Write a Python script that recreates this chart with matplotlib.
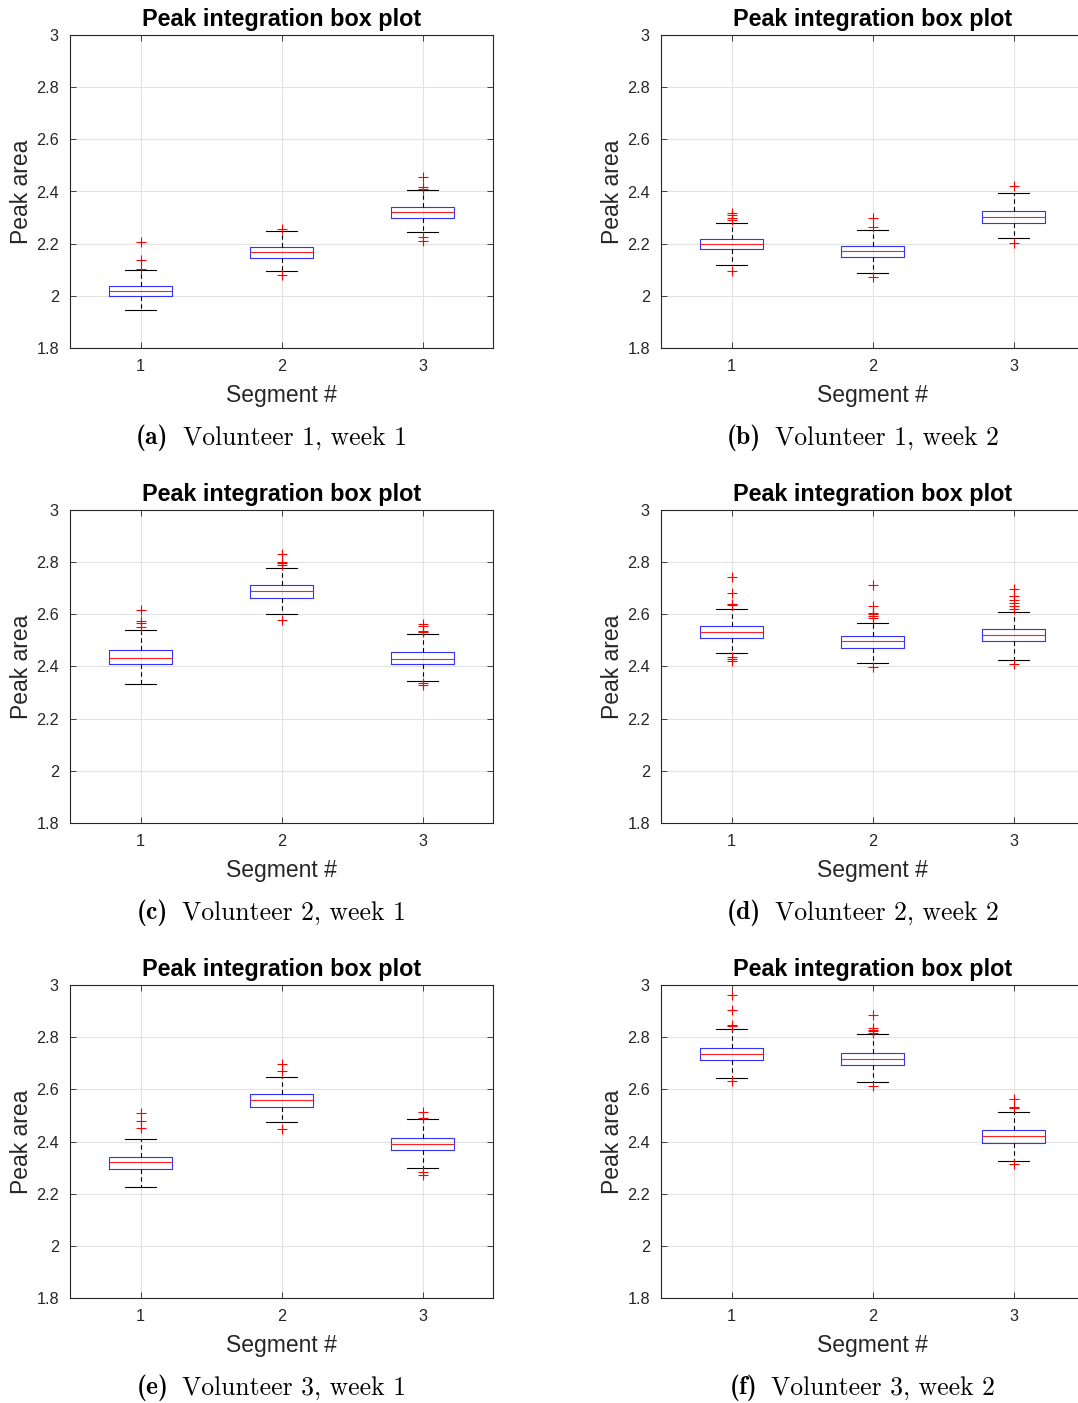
import matplotlib
matplotlib.use("Agg")
import matplotlib.pyplot as plt

# ── Datos (resumen de cada caja) ──
segmentos = [1, 2, 3]

# cada panel: mediana, q1, q3, bigote inferior, bigote superior, atípicos
a_med = [2.017, 2.167, 2.320]
a_q1 = [1.999, 2.145, 2.299]
a_q3 = [2.038, 2.187, 2.341]
a_lo = [1.945, 2.095, 2.244]
a_hi = [2.100, 2.249, 2.405]
a_out = [[2.208, 2.137, 2.103], [2.256, 2.078], [2.455, 2.417, 2.410, 2.226, 2.212]]

b_med = [2.200, 2.171, 2.303]
b_q1 = [2.178, 2.147, 2.279]
b_q3 = [2.219, 2.191, 2.324]
b_lo = [2.120, 2.088, 2.222]
b_hi = [2.279, 2.254, 2.394]
b_out = [[2.317, 2.309, 2.300, 2.290, 2.095], [2.297, 2.264, 2.074], [2.420, 2.203]]

c_med = [2.433, 2.689, 2.429]
c_q1 = [2.408, 2.661, 2.408]
c_q3 = [2.463, 2.712, 2.455]
c_lo = [2.334, 2.603, 2.344]
c_hi = [2.539, 2.778, 2.524]
c_out = [[2.616, 2.575, 2.567, 2.552], [2.831, 2.801, 2.796, 2.791, 2.580],
         [2.562, 2.555, 2.537, 2.534, 2.335, 2.328]]

d_med = [2.532, 2.496, 2.521]
d_q1 = [2.510, 2.470, 2.497]
d_q3 = [2.554, 2.516, 2.545]
d_lo = [2.453, 2.415, 2.425]
d_hi = [2.619, 2.567, 2.608]
d_out = [[2.744, 2.682, 2.641, 2.634, 2.437, 2.429, 2.422],
         [2.712, 2.632, 2.606, 2.600, 2.594, 2.587, 2.397],
         [2.698, 2.670, 2.655, 2.642, 2.632, 2.622, 2.410]]

e_med = [2.320, 2.558, 2.389]
e_q1 = [2.293, 2.534, 2.366]
e_q3 = [2.340, 2.581, 2.414]
e_lo = [2.224, 2.475, 2.298]
e_hi = [2.409, 2.648, 2.485]
e_out = [[2.508, 2.479, 2.451], [2.696, 2.670, 2.448], [2.512, 2.492, 2.283, 2.273]]

f_med = [2.736, 2.717, 2.422]
f_q1 = [2.712, 2.692, 2.395]
f_q3 = [2.759, 2.739, 2.445]
f_lo = [2.645, 2.627, 2.327]
f_hi = [2.831, 2.812, 2.512]
f_out = [[2.962, 2.905, 2.847, 2.842, 2.633],
         [2.885, 2.837, 2.828, 2.822, 2.815, 2.614],
         [2.564, 2.531, 2.527, 2.315]]

paneles = [
    ("(a)", "Volunteer 1, week 1", a_med, a_q1, a_q3, a_lo, a_hi, a_out),
    ("(b)", "Volunteer 1, week 2", b_med, b_q1, b_q3, b_lo, b_hi, b_out),
    ("(c)", "Volunteer 2, week 1", c_med, c_q1, c_q3, c_lo, c_hi, c_out),
    ("(d)", "Volunteer 2, week 2", d_med, d_q1, d_q3, d_lo, d_hi, d_out),
    ("(e)", "Volunteer 3, week 1", e_med, e_q1, e_q3, e_lo, e_hi, e_out),
    ("(f)", "Volunteer 3, week 2", f_med, f_q1, f_q3, f_lo, f_hi, f_out),
]
yticks = [1.8, 2, 2.2, 2.4, 2.6, 2.8, 3]
ytick_labels = ["1.8", "2", "2.2", "2.4", "2.6", "2.8", "3"]

plt.rcParams["font.family"] = ["Liberation Sans", "DejaVu Sans"]

W, H = 1078, 1403
fig = plt.figure(figsize=(W / 100, H / 100), dpi=100)
renderer = fig.canvas.get_renderer()

lefts = [70, 661]
tops = [35, 510, 985]
aw, ah = 423, 313
gap = 14  # px entre "(a)" y el texto

for i, (letra, texto, med, q1, q3, lo, hi, out) in enumerate(paneles):
    fila, col = divmod(i, 2)
    x0, y0 = lefts[col], tops[fila]
    ax = fig.add_axes([x0 / W, (H - y0 - ah) / H, aw / W, ah / H])

    stats = []
    for k in range(3):
        stats.append(dict(med=med[k], q1=q1[k], q3=q3[k],
                          whislo=lo[k], whishi=hi[k], fliers=out[k]))
    ax.bxp(stats, positions=segmentos, widths=0.45, showfliers=True,
           boxprops=dict(color="#3333ff", linewidth=0.8),
           medianprops=dict(color="#ff2020", linewidth=0.8),
           whiskerprops=dict(color="black", linewidth=0.8, linestyle=(0, (4, 3))),
           capprops=dict(color="black", linewidth=0.8),
           capwidths=0.22,
           flierprops=dict(marker="+", markeredgecolor="#ff0000",
                           markersize=7, markeredgewidth=0.8, linestyle="none"))

    ax.set_xlim(0.5, 3.5)
    ax.set_ylim(1.8, 3)
    ax.set_xticks(segmentos)
    ax.set_xticklabels([str(s) for s in segmentos])
    ax.set_yticks(yticks)
    ax.set_yticklabels(ytick_labels)
    ax.grid(True, color="#e3e3e3", linewidth=0.8)
    ax.set_axisbelow(True)
    ax.tick_params(direction="in", top=True, right=True, labelsize=11.7,
                   length=4, width=0.6, colors="#262626", pad=8)
    for s in ax.spines.values():
        s.set_color("#262626")
        s.set_linewidth(0.8)

    ax.set_title("Peak integration box plot", fontsize=16.8, fontweight="bold", pad=6.5)
    ax.set_ylabel("Peak area", fontsize=16.5, color="#262626", labelpad=2)
    ax.set_xlabel("Segment #", fontsize=16.5, color="#262626", labelpad=7)

    # pie de figura: "(a)" en negrita + texto en Computer Modern
    cx = x0 + aw / 2 - 10
    cy = 1 - (y0 + 403) / H
    t1 = fig.text(0, cy, letra, fontfamily="cmb10", fontsize=18.5,
                  ha="left", va="center")
    t2 = fig.text(0, cy, texto, fontfamily="cmr10", fontsize=18.5,
                  ha="left", va="center")
    w1 = t1.get_window_extent(renderer).width
    w2 = t2.get_window_extent(renderer).width
    xs = cx - (w1 + gap + w2) / 2
    t1.set_x(xs / W)
    t2.set_x((xs + w1 + gap) / W)

fig.savefig("out.png", dpi=100)
